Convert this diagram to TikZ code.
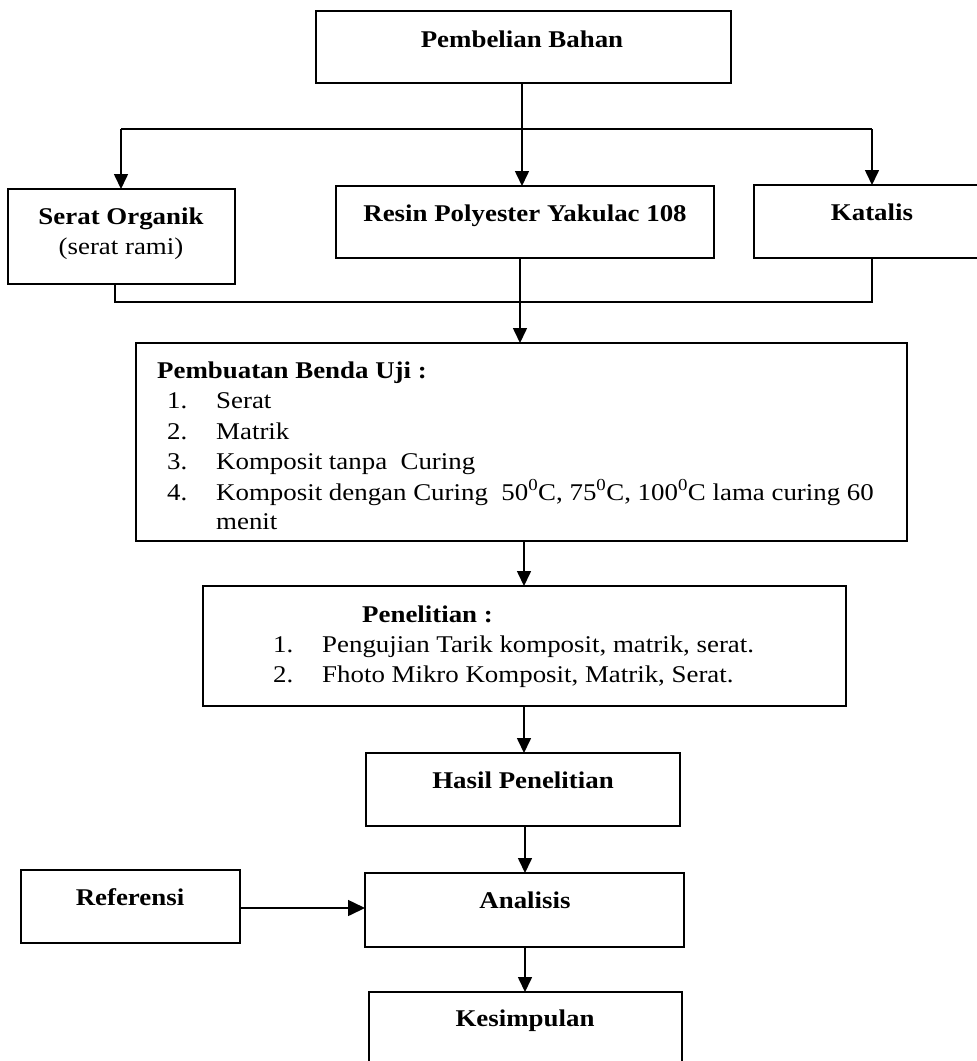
\documentclass[tikz,border=0pt]{standalone}
\usepackage{fontspec}
\setmainfont{Liberation Serif}[FakeStretch=1.12]
\usetikzlibrary{arrows.meta}
\begin{document}
\begin{tikzpicture}[x=1pt,y=-1pt,
  box/.style={draw, line width=1.6pt, inner sep=0pt, outer sep=0pt},
  lbl/.style={font=\fontsize{24}{30}\selectfont, inner sep=0pt, anchor=base},
  bl/.style={lbl, font=\fontsize{24}{30}\selectfont\bfseries},
  conn/.style={line width=1.6pt},
  arr/.style={conn, -{Triangle[length=15pt,width=14pt]}},
  sidearr/.style={conn, -{Triangle[length=17pt,width=16pt]}},
]
\useasboundingbox (0,0) rectangle (977,1061);
\fill[white] (0,0) rectangle (977,1061);
\clip (0,0) rectangle (977,1061);

% boxes
\node[box, minimum width=415pt, minimum height=72pt] (pb) at (523.5,47) {};
\node[box, minimum width=227pt, minimum height=95pt] (so) at (121.5,236.5) {};
\node[box, minimum width=378pt, minimum height=72pt] (rp) at (525,222) {};
\node[box, minimum width=246pt, minimum height=73pt] (kt) at (877,221.5) {};
\node[box, minimum width=771pt, minimum height=198pt] (bu) at (521.5,442) {};
\node[box, minimum width=643pt, minimum height=120pt] (pn) at (524.5,646) {};
\node[box, minimum width=314pt, minimum height=73pt] (hp) at (523,789.5) {};
\node[box, minimum width=219pt, minimum height=73pt] (ref) at (130.5,906.5) {};
\node[box, minimum width=319pt, minimum height=74pt] (an) at (524.5,910) {};
\node[box, minimum width=313pt, minimum height=108pt] (ks) at (525.5,1046) {};

% texts
\node[bl] (t-pb) at (522,47) {Pembelian Bahan};
\node[bl] (t-so1) at (121,224) {Serat Organik};
\node[lbl] (t-so2) at (121,254) {(serat rami)};
\node[bl] (t-rp) at (525,221) {Resin Polyester Yakulac 108};
\node[bl] (t-kt) at (872,220) {Katalis};

\node[bl, anchor=base west] (t-bu) at (157,378) {Pembuatan Benda Uji :};
\node[lbl, anchor=base west] (n-bu1) at (167,408) {1.};
\node[lbl, anchor=base west] (i-bu1) at (216,408) {Serat};
\node[lbl, anchor=base west] (n-bu2) at (167,439) {2.};
\node[lbl, anchor=base west] (i-bu2) at (216,439) {Matrik};
\node[lbl, anchor=base west] (n-bu3) at (167,469) {3.};
\node[lbl, anchor=base west] (i-bu3) at (216,469) {Komposit tanpa\ \ Curing};
\node[lbl, anchor=base west] (n-bu4) at (167,500) {4.};
\node[lbl, anchor=base west] (i-bu4) at (216,500) {Komposit dengan Curing\ \ 50\textsuperscript{0}C, 75\textsuperscript{0}C, 100\textsuperscript{0}C lama curing 60};
\node[lbl, anchor=base west] (i-bu5) at (216,529) {menit};

\node[bl, anchor=base west] (t-pn) at (362,622) {Penelitian :};
\node[lbl, anchor=base west] (n-pn1) at (273,652) {1.};
\node[lbl, anchor=base west] (i-pn1) at (322,652) {Pengujian Tarik komposit, matrik, serat.};
\node[lbl, anchor=base west] (n-pn2) at (273,682) {2.};
\node[lbl, anchor=base west] (i-pn2) at (322,682) {Fhoto Mikro Komposit, Matrik, Serat.};

\node[bl] (t-hp) at (523,788) {Hasil Penelitian};
\node[bl] (t-ref) at (130,905) {Referensi};
\node[bl] (t-an) at (525,908) {Analisis};
\node[bl] (t-ks) at (525,1026) {Kesimpulan};

% connectors: distribution
\coordinate (topl) at (121,129);
\coordinate (topr) at (872,129);
\coordinate (topm) at (522,129);
\draw[conn] (topl) -- (topr);
\draw[conn] (pb.south -| topm) -- (topm);
\draw[arr] (topl) -- (topl |- so.north);
\draw[arr] (topm) -- (topm |- rp.north);
\draw[arr] (topr) -- (topr |- kt.north);

% collection
\coordinate (botl) at (115,302);
\coordinate (botr) at (872,302);
\coordinate (botm) at (520,302);
\draw[conn] (botl |- so.south) -- (botl) -- (botr) -- (botr |- kt.south);
\draw[arr] (rp.south -| botm) -- (botm |- bu.north);

% main chain
\coordinate (mid1) at (524,560);
\coordinate (mid2) at (525,850);
\draw[arr] (bu.south -| mid1) -- (pn.north -| mid1);
\draw[arr] (pn.south -| mid1) -- (hp.north -| mid1);
\draw[arr] (hp.south -| mid2) -- (an.north -| mid2);
\draw[arr] (an.south -| mid2) -- (ks.north -| mid2);
\coordinate (refy) at (0,908);
\draw[sidearr] (ref.east |- refy) -- (an.west |- refy);
\end{tikzpicture}
\end{document}
